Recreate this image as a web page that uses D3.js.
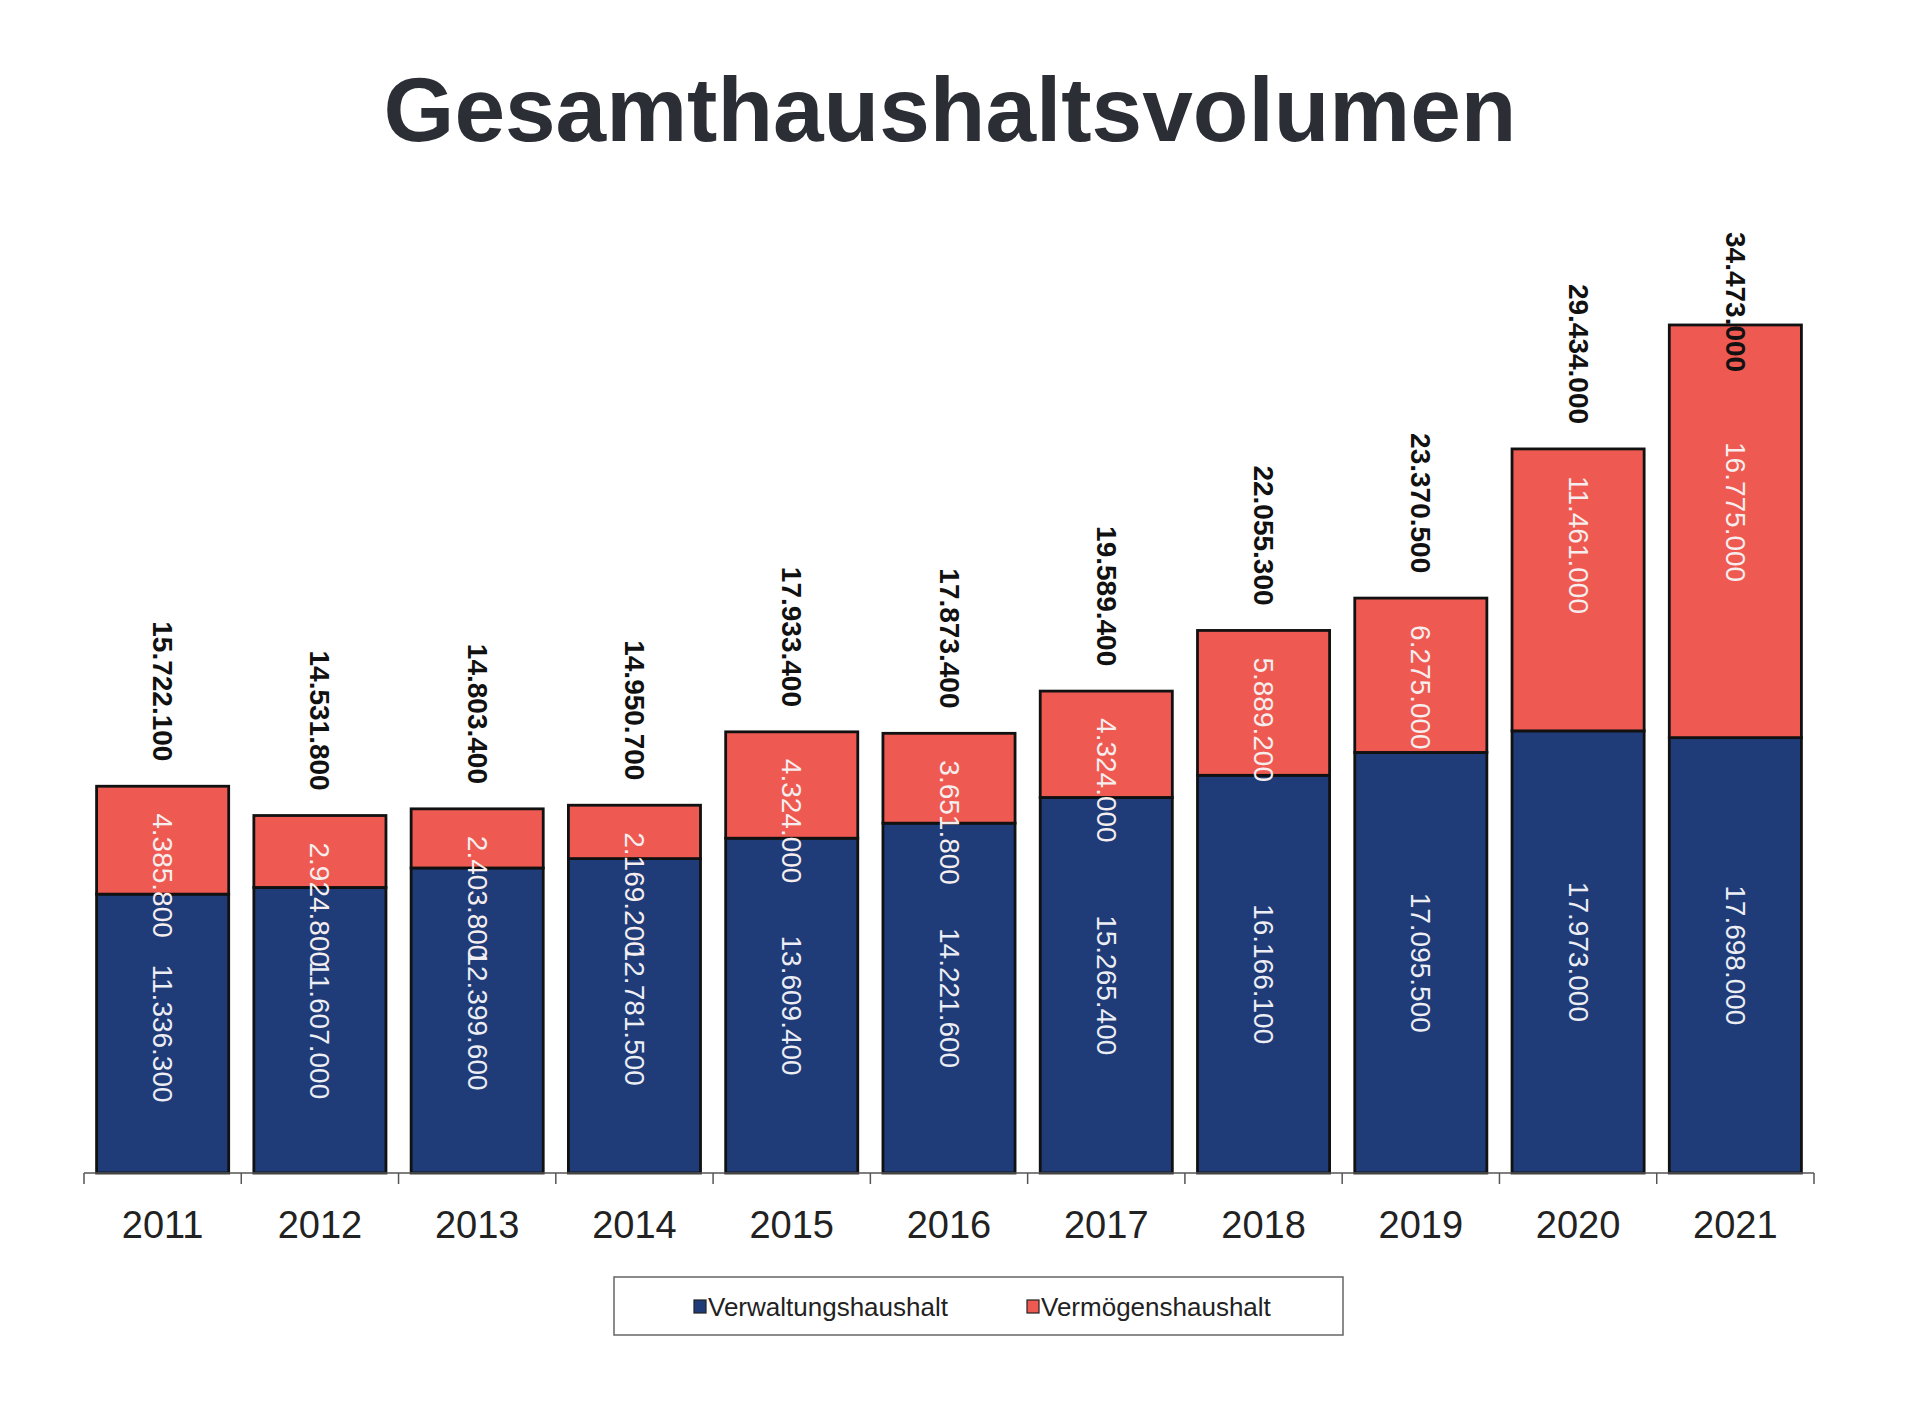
<!DOCTYPE html>
<html>
<head>
<meta charset="utf-8">
<script src="https://cdnjs.cloudflare.com/ajax/libs/d3/7.8.5/d3.min.js"></script>
<style>
  body { margin: 0; background: #ffffff; }
  svg { display: block; }
  text { font-family: "Liberation Sans", Arial, sans-serif; }
</style>
</head>
<body>
<svg id="chart" width="1926" height="1410"></svg>
<script>
//chart data
let years = ['2011', '2012', '2013', '2014', '2015', '2016', '2017', '2018', '2019', '2020', '2021'];
let verwaltung = [11336300, 11607000, 12399600, 12781500, 13609400, 14221600, 15265400, 16166100, 17095500, 17973000, 17698000];
let vermoegen = [4385800, 2924800, 2403800, 2169200, 4324000, 3651800, 4324000, 5889200, 6275000, 11461000, 16775000];
let seriesNames = ['Verwaltungshaushalt', 'Vermögenshaushalt'];
let seriesColors = ['#1f3b78', '#ee5a52'];

let svg = d3.select('#chart');

//german number format 15.722.100
let de = d3.formatLocale({decimal: ',', thousands: '.', grouping: [3], currency: ['', ' €']});
let fmt = de.format(',.0f');

let rows = years.map((y, i) => ({year: y, verwaltung: verwaltung[i], vermoegen: vermoegen[i]}));
let stacked = d3.stack().keys(['verwaltung', 'vermoegen'])(rows);

//scales
let x = d3.scaleBand()
    .domain(years)
    .range([84, 1814])
    .paddingInner(0.16)
    .paddingOuter(0.08);

let y = d3.scaleLinear()
    .domain([0, 40000000])
    .range([1173, 189]);

//title
svg.append('text')
    .attr('x', 950)
    .attr('y', 141)
    .attr('text-anchor', 'middle')
    .attr('font-size', 91)
    .attr('font-weight', 'bold')
    .attr('fill', '#2b2e35')
    .text('Gesamthaushaltsvolumen');

//bars
let layers = svg.append('g').selectAll('g')
    .data(stacked)
    .join('g')
    .attr('fill', (d, i) => seriesColors[i]);

layers.selectAll('rect')
    .data(d => d)
    .join('rect')
    .attr('x', d => x(d.data.year))
    .attr('y', d => y(d[1]))
    .attr('width', x.bandwidth())
    .attr('height', d => y(d[0]) - y(d[1]))
    .attr('stroke', '#111')
    .attr('stroke-width', 2.8);

//axis with ticks between the bars
let axisG = svg.append('g');
axisG.append('line')
    .attr('x1', x.range()[0]).attr('x2', x.range()[1])
    .attr('y1', y(0)).attr('y2', y(0))
    .attr('stroke', '#555').attr('stroke-width', 1.5);

let tickPos = years.map(d => x(d) - x.step() * x.paddingInner() / 2);
tickPos[0] = x.range()[0];
tickPos.push(x.range()[1]);
axisG.selectAll('.tick')
    .data(tickPos)
    .join('line')
    .attr('class', 'tick')
    .attr('x1', d => d).attr('x2', d => d)
    .attr('y1', y(0)).attr('y2', y(0) + 11)
    .attr('stroke', '#555').attr('stroke-width', 1.5);

axisG.selectAll('.year')
    .data(years)
    .join('text')
    .attr('class', 'year')
    .attr('x', d => x(d) + x.bandwidth() / 2)
    .attr('y', y(0) + 65)
    .attr('text-anchor', 'middle')
    .attr('font-size', 38)
    .attr('fill', '#222')
    .text(d => d);

//labels (rotated, reading top to bottom)
let labelSize = 28;
let topLimit = 232;
let labelInfo = rows.map(d => {
    let total = d.verwaltung + d.vermoegen;
    let txt = fmt(total);
    let len = txt.length * 0.5 * labelSize;
    let start = y(total) - 25 - len;
    let clamped = start < topLimit;
    if (clamped) start = topLimit;
    let redStart = clamped ? start + len + 70 : y(total) + 27;
    return {year: d.year, total: total, start: start, redStart: redStart, d: d};
});

let labels = svg.append('g');

//blue segment labels, centered
labels.selectAll('.blue')
    .data(labelInfo)
    .join('text')
    .attr('class', 'blue')
    .attr('transform', d => 'translate(' + (x(d.year) + x.bandwidth() / 2) + ',' + ((y(0) + y(d.d.verwaltung)) / 2) + ') rotate(90)')
    .attr('text-anchor', 'middle')
    .attr('dominant-baseline', 'central')
    .attr('font-size', labelSize)
    .attr('fill', '#eceef4')
    .text(d => fmt(d.d.verwaltung));

//red segment labels, near the top of the segment
labels.selectAll('.red')
    .data(labelInfo)
    .join('text')
    .attr('class', 'red')
    .attr('transform', d => 'translate(' + (x(d.year) + x.bandwidth() / 2) + ',' + d.redStart + ') rotate(90)')
    .attr('text-anchor', 'start')
    .attr('dominant-baseline', 'central')
    .attr('font-size', labelSize)
    .attr('fill', '#f6eeee')
    .text(d => fmt(d.d.vermoegen));

//totals above the bars
labels.selectAll('.total')
    .data(labelInfo)
    .join('text')
    .attr('class', 'total')
    .attr('transform', d => 'translate(' + (x(d.year) + x.bandwidth() / 2) + ',' + d.start + ') rotate(90)')
    .attr('text-anchor', 'start')
    .attr('dominant-baseline', 'central')
    .attr('font-size', labelSize)
    .attr('font-weight', 'bold')
    .attr('fill', '#111')
    .text(d => fmt(d.total));

//legend
let legend = svg.append('g');
legend.append('rect')
    .attr('x', 614).attr('y', 1277)
    .attr('width', 729).attr('height', 58)
    .attr('fill', '#fff')
    .attr('stroke', '#666').attr('stroke-width', 1.5);

let legendX = [694, 1027];
let items = legend.selectAll('.item')
    .data(seriesNames)
    .join('g')
    .attr('class', 'item')
    .attr('transform', (d, i) => 'translate(' + legendX[i] + ',1307)');

items.append('rect')
    .attr('x', 0).attr('y', -7)
    .attr('width', 12).attr('height', 13)
    .attr('fill', (d, i) => seriesColors[i])
    .attr('stroke', '#222').attr('stroke-width', 1.2);

items.append('text')
    .attr('x', 14)
    .attr('y', 9)
    .attr('font-size', 26)
    .attr('fill', '#222')
    .text(d => d);
</script>
</body>
</html>
